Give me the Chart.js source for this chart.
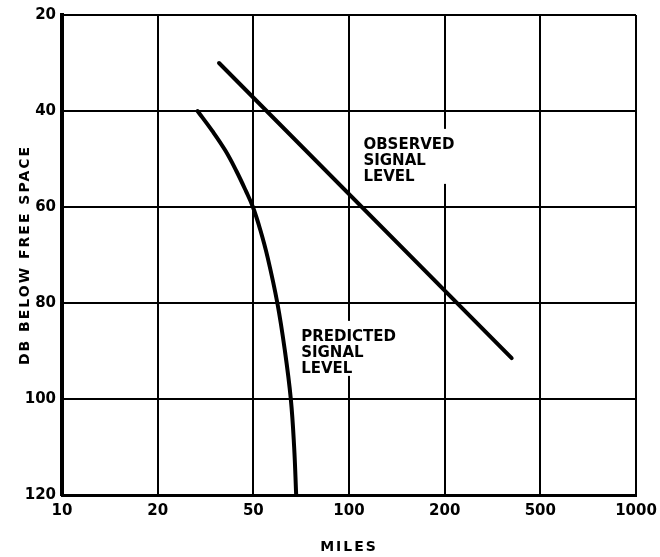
<!DOCTYPE html>
<html>
<head>
<meta charset="utf-8">
<script src="https://cdn.jsdelivr.net/npm/chart.js@4.4.1/dist/chart.umd.min.js"></script>
<style>
html,body{margin:0;padding:0;background:#fff;}
#wrap{width:660px;height:557px;position:relative;}
</style>
</head>
<body>
<div id="wrap"><canvas id="c" width="660" height="557"></canvas></div>
<script>
// ---- data ----
const X_TICKS = [10, 20, 50, 100, 200, 500, 1000];
const Y_TICKS = [20, 40, 60, 80, 100, 120];
const OBSERVED_MILES = [36, 380];
const OBSERVED_DB = [30, 91.5];
const PREDICTED_MILES = [29.3, 33.8, 38.3, 42.5, 46.6, 49.8, 52.6, 55.5, 59.5, 62.8, 65.6, 67.2, 68.2];
const PREDICTED_DB = [40, 44.2, 48.3, 52.5, 56.7, 60, 64.8, 70.6, 80, 89.8, 100, 110, 120];
const X_TITLE = 'MILES';
const Y_TITLE = 'DB BELOW FREE SPACE';
const NOTE_OBSERVED = ['OBSERVED', 'SIGNAL', 'LEVEL'];
const NOTE_PREDICTED = ['PREDICTED', 'SIGNAL', 'LEVEL'];

// ---- x scale: labelled gridlines equally spaced, log interpolation between them ----
function toSlot(v) {
  const n = X_TICKS.length;
  if (v <= X_TICKS[0]) return 0;
  for (let i = 0; i < n - 1; i++) {
    const a = X_TICKS[i], b = X_TICKS[i + 1];
    if (v <= b) return i + Math.log(v / a) / Math.log(b / a);
  }
  return n - 1;
}
function fromSlot(s) {
  const n = X_TICKS.length;
  const i = Math.max(0, Math.min(n - 2, Math.floor(s)));
  const a = X_TICKS[i], b = X_TICKS[i + 1];
  return a * Math.pow(b / a, s - i);
}
class SteppedLogScale extends Chart.LinearScale {
  determineDataLimits() {
    this.min = X_TICKS[0];
    this.max = X_TICKS[X_TICKS.length - 1];
  }
  buildTicks() {
    this.min = X_TICKS[0];
    this.max = X_TICKS[X_TICKS.length - 1];
    return X_TICKS.map(v => ({ value: v }));
  }
  getPixelForValue(v) {
    return this.getPixelForDecimal(toSlot(v) / (X_TICKS.length - 1));
  }
  getValueForPixel(p) {
    return fromSlot(this.getDecimalForPixel(p) * (X_TICKS.length - 1));
  }
}
SteppedLogScale.id = 'steppedLog';
SteppedLogScale.defaults = Chart.LinearScale.defaults;
Chart.register(SteppedLogScale);

const notesPlugin = {
  id: 'notes',
  beforeDraw(chart) {
    chart.ctx.letterSpacing = '2px';
  },
  beforeDatasetsDraw(chart) {
    const ctx = chart.ctx;
    ctx.letterSpacing = '0px';
    const notes = chart.options.plugins.notes.items;
    const xs = chart.scales.x, ys = chart.scales.y;
    ctx.save();
    ctx.font = 'bold 15px "DejaVu Sans"';
    ctx.textBaseline = 'alphabetic';
    ctx.textAlign = 'left';
    for (const n of notes) {
      const x = xs.getPixelForValue(n.x);
      const top = ys.getPixelForValue(n.y);
      const w = Math.max(...n.lines.map(l => ctx.measureText(l).width));
      const cap = 11, pitch = 16;
      ctx.fillStyle = '#fff';
      ctx.fillRect(x - 3, top - 9, w + 6, 9 + cap + pitch * (n.lines.length - 1) + 3);
      ctx.fillStyle = '#000';
      n.lines.forEach((l, i) => ctx.fillText(l, x, top + cap + i * pitch));
    }
    ctx.restore();
  },
  afterDraw(chart) {
    chart.ctx.letterSpacing = '0px';
  }
};

const tickFont = { family: '"DejaVu Sans"', size: 15, weight: 'bold' };
const titleFont = { family: '"DejaVu Sans"', size: 14, weight: 'bold' };

new Chart(document.getElementById('c'), {
  type: 'line',
  data: {
    datasets: [
      {
        label: 'Observed signal level',
        data: OBSERVED_MILES.map((m, i) => ({ x: m, y: OBSERVED_DB[i] })),
        borderColor: '#000', borderWidth: 4, pointRadius: 0,
        borderCapStyle: 'round', tension: 0, fill: false
      },
      {
        label: 'Predicted signal level',
        data: PREDICTED_MILES.map((m, i) => ({ x: m, y: PREDICTED_DB[i] })),
        borderColor: '#000', borderWidth: 4, pointRadius: 0,
        borderCapStyle: 'round', tension: 0.4, fill: false
      }
    ]
  },
  options: {
    responsive: false,
    animation: false,
    devicePixelRatio: 1,
    layout: { padding: { left: 0, right: 24, top: 15, bottom: 0 } },
    plugins: {
      legend: { display: false },
      tooltip: { enabled: false },
      notes: {
        items: [
          { lines: NOTE_OBSERVED, x: 111, y: 45.6 },
          { lines: NOTE_PREDICTED, x: 70.7, y: 85.6 }
        ]
      }
    },
    scales: {
      x: {
        type: 'steppedLog',
        position: 'bottom',
        afterFit: s => { s.height = 62; s.paddingLeft = 0; s.paddingRight = 0; },
        grid: { color: '#000', lineWidth: 2, drawTicks: false },
        border: { color: '#000', width: 3 },
        ticks: {
          z: 1, padding: 7, color: '#000', font: tickFont, maxRotation: 0, autoSkip: false,
          callback: (v) => String(v)
        },
        title: { display: true, text: X_TITLE, color: '#000', font: titleFont, padding: { top: 0, bottom: 1 } }
      },
      y: {
        type: 'linear',
        reverse: true,
        min: Y_TICKS[0],
        max: Y_TICKS[Y_TICKS.length - 1],
        afterFit: s => { s.width = 62; s.paddingTop = 0; s.paddingBottom = 0; },
        afterBuildTicks: s => { s.ticks = Y_TICKS.map(v => ({ value: v })); },
        grid: { color: '#000', lineWidth: 2, drawTicks: false },
        border: { color: '#000', width: 4 },
        ticks: { z: 1, padding: 6, color: '#000', font: tickFont, callback: v => String(v) },
        title: { display: true, text: Y_TITLE, color: '#000', font: titleFont, padding: { top: 17, bottom: 0 } }
      }
    }
  },
  plugins: [notesPlugin]
});
</script>
</body>
</html>
